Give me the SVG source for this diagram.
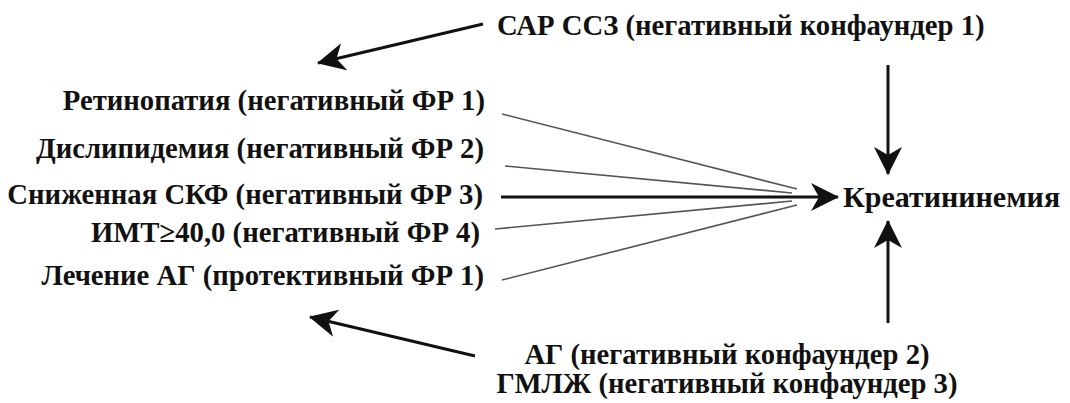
<svg xmlns="http://www.w3.org/2000/svg" width="1070" height="403" viewBox="0 0 1070 403">
<defs>
<style>
text { font-family: "Liberation Serif", "Times New Roman", serif; font-weight: bold; fill: #111; }
.lbl { font-size: 28.7px; }
.thin { stroke: #555; stroke-width: 1.6; fill: none; }
.arr { stroke: #111; stroke-width: 3; fill: none; }
</style>
<marker id="ah" markerUnits="userSpaceOnUse" viewBox="0 0 28 28" refX="27" refY="14" markerWidth="28" markerHeight="28" orient="auto">
<path d="M0,0 L28,14 L0,28 L8,14 Z" fill="#111"/>
</marker>
</defs>
<rect width="1070" height="403" fill="#fff"/>
<g id="connectors">
<line class="arr" x1="483" y1="24" x2="318" y2="63" marker-end="url(#ah)"/>
<line class="arr" x1="475" y1="356" x2="310" y2="317" marker-end="url(#ah)"/>
<line class="arr" x1="888" y1="65" x2="888" y2="174" marker-end="url(#ah)"/>
<line class="arr" x1="888" y1="323" x2="888" y2="221" marker-end="url(#ah)"/>
<line class="arr" x1="501" y1="197" x2="838" y2="197" stroke-width="3.5" marker-end="url(#ah)"/>
<line class="thin" x1="502" y1="114" x2="797" y2="189"/>
<line class="thin" x1="505" y1="166" x2="792" y2="193"/>
<line class="thin" x1="495" y1="229" x2="792" y2="201"/>
<line class="thin" x1="502" y1="280" x2="797" y2="205"/>
</g>
<g id="n-sar"><text class="lbl" x="497" y="35">САР ССЗ (негативный конфаундер 1)</text></g>
<g id="n-ret"><text class="lbl" x="485" y="110" text-anchor="end">Ретинопатия (негативный ФР 1)</text></g>
<g id="n-dis"><text class="lbl" x="484" y="158" text-anchor="end">Дислипидемия (негативный ФР 2)</text></g>
<g id="n-skf"><text class="lbl" x="483" y="204" text-anchor="end">Сниженная СКФ (негативный ФР 3)</text></g>
<g id="n-imt"><text class="lbl" x="480" y="242" text-anchor="end">ИМТ≥40,0 (негативный ФР 4)</text></g>
<g id="n-ag-tr"><text class="lbl" x="484" y="285" text-anchor="end">Лечение АГ (протективный ФР 1)</text></g>
<g id="n-kreat"><text x="843" y="207" font-size="30">Креатининемия</text></g>
<g id="n-ag"><text class="lbl" x="727" y="364" text-anchor="middle">АГ (негативный конфаундер 2)</text><text class="lbl" x="727" y="393" text-anchor="middle">ГМЛЖ (негативный конфаундер 3)</text></g>
</svg>
